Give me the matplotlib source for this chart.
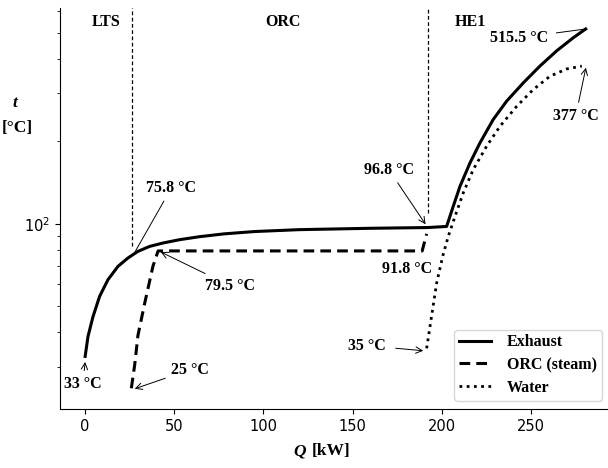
import matplotlib.pyplot as plt
from matplotlib.ticker import NullFormatter

# Datos (Q en kW, t en grados C)
q_exhaust = [0, 1.6, 4.4, 8.1, 12.8, 18.4, 24, 29.6, 36.2, 43.7, 53, 64, 78, 95, 120, 160, 192,
             202.7, 206.4, 210.2, 215.8, 221.4, 228.8, 236.3, 245.7, 255, 264.4, 273.7, 280.7]
t_exhaust = [32.7, 38.7, 45.7, 54.2, 62.4, 69.8, 74.9, 79.2, 82.6, 85, 87.4, 89.6, 91.8, 93.6, 95.1,
             96.2, 96.8, 97.7, 115.7, 137, 166.8, 197.5, 240.3, 280.4, 327.4, 377, 428.7, 478.6, 515.5]

q_orc = [25.9, 27.8, 29.6, 33.4, 38, 40.9, 189, 191.5]
t_orc = [25, 30.5, 39, 51.2, 69.8, 79.5, 79.5, 91.8]

q_water = [191.5, 197.1, 200.5, 203.6, 207.4, 212, 217.6, 225.1, 232.6, 242, 251.3, 260.7, 270, 278.5]
t_water = [35, 60.6, 76, 89.8, 106.3, 129.5, 157.6, 191.9, 227, 268.8, 309.6, 346.3, 368, 377]

zonas = ["LTS", "ORC", "HE1"]
zonas_q = [11.5, 110.8, 215.8]
limites_q = [26.4, 192]
limites_t = [82.6, 109.7]

serif = "Liberation Serif"

fig = plt.figure(figsize=(6.08, 4.68), dpi=100)
ax = fig.add_axes([60 / 608, 1 - 409 / 468, 553 / 608, 401 / 468])

ax.plot(q_exhaust, t_exhaust, color="black", lw=2.2, label="Exhaust")
ax.plot(q_orc, t_orc, color="black", lw=2.2, ls=(0, (3.5, 2)), label="ORC (steam)")
ax.plot(q_water, t_water, color="black", lw=2, ls=(0, (1, 1.6)), label="Water")

ax.set_yscale("log")
ax.set_xlim(-14.1, 296)
ax.set_ylim(21, 615)

for q, t in zip(limites_q, limites_t):
    ax.vlines(q, t, 615, colors="black", lw=0.9, linestyles=(0, (3, 2)))

for nombre, q in zip(zonas, zonas_q):
    ax.text(q, 546, nombre, ha="center", va="center", family=serif,
            fontweight="bold", fontsize=11.5)

# Anotaciones de temperatura
fk = dict(family=serif, fontweight="bold", fontsize=11.5, ha="center", va="center")
flecha = dict(arrowstyle="->", color="black", lw=0.7, shrinkA=2, shrinkB=0)
linea = dict(arrowstyle="-", color="black", lw=0.7, shrinkA=2, shrinkB=0)

ax.annotate("75.8 °C", xy=(26.8, 76.5), xytext=(48.4, 135.2), arrowprops=linea, **fk)
ax.annotate("79.5 °C", xy=(42.4, 78.8), xytext=(81.1, 59.4), arrowprops=flecha, **fk)
ax.annotate("25 °C", xy=(27.8, 24.9), xytext=(58.6, 29.2), arrowprops=flecha, **fk)
ax.annotate("33 °C", xy=(0, 31.2), xytext=(-1.2, 25.9), arrowprops=flecha, **fk)
ax.annotate("96.8 °C", xy=(190.9, 99.5), xytext=(170.3, 157.6), arrowprops=flecha, **fk)
ax.text(180.6, 68.4, "91.8 °C", **fk)
ax.annotate("35 °C", xy=(189.6, 34.3), xytext=(158.1, 35.8),
            arrowprops=dict(arrowstyle="->", color="black", lw=0.7, shrinkA=5, shrinkB=0), **fk)
ax.annotate("515.5 °C", xy=(280.7, 515.5), xytext=(243.3, 478),
            arrowprops=dict(arrowstyle="-", color="black", lw=0.7, shrinkA=4, shrinkB=0), **fk)
ax.annotate("377 °C", xy=(280.8, 372), xytext=(275.1, 248), arrowprops=flecha, **fk)

ax.spines["top"].set_visible(False)
ax.spines["right"].set_visible(False)
ax.tick_params(labelsize=10.5)
ax.yaxis.set_minor_formatter(NullFormatter())

fig.text(15 / 608, 1 - 103 / 468, "t", family=serif, fontweight="bold", style="italic",
         fontsize=12.5, ha="center", va="center")
fig.text(17 / 608, 1 - 128 / 468, "[°C]", family=serif, fontweight="bold",
         fontsize=12.5, ha="center", va="center")
fig.text(300 / 608, 1 - 451 / 468, "Q", family=serif, fontweight="bold", style="italic",
         fontsize=12.5, ha="center", va="center")
fig.text(331 / 608, 1 - 451 / 468, "[kW]", family=serif, fontweight="bold",
         fontsize=12.5, ha="center", va="center")

ax.legend(loc="lower right", bbox_to_anchor=(0.98, 0.021), borderaxespad=0,
          prop=dict(family=serif, weight="bold", size=11.5),
          handlelength=2.0, handletextpad=1.0, borderpad=0.3, labelspacing=0.42)

fig.savefig("out.png", dpi=100)
